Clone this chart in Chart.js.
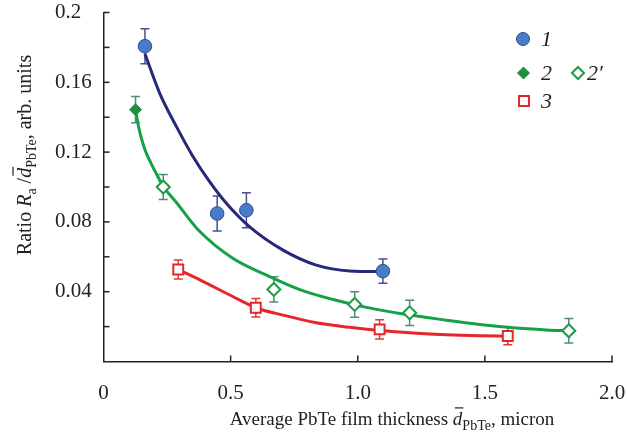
<!DOCTYPE html>
<html>
<head>
<meta charset="utf-8">
<script src="https://cdn.jsdelivr.net/npm/chart.js@4"></script>
<style>
  html, body { margin: 0; padding: 0; background: #ffffff; }
  canvas { display: block; }
</style>
</head>
<body>
<canvas id="chart" width="627" height="439"></canvas>
<script>
// measured points (x = thickness, micron; y = ratio)
const x1 = [0.163, 0.447, 0.562, 1.099];
const y1 = [0.1807, 0.0848, 0.0867, 0.0518];
const err1 = [0.010, 0.010, 0.010, 0.007];

const x2 = [0.126];
const y2 = [0.1443];
const err2 = [0.0075];

const x2p = [0.235, 0.670, 0.988, 1.204, 1.830];
const y2p = [0.1000, 0.0413, 0.0327, 0.0279, 0.0176];
const err2p = [0.0072, 0.0072, 0.0073, 0.0072, 0.0070];

const x3 = [0.294, 0.599, 1.086, 1.590];
const y3 = [0.0527, 0.0308, 0.0184, 0.0146];
const err3 = [0.0054, 0.0053, 0.0055, 0.0050];

// fitted curves
const fit1X = [0.163, 0.222, 0.288, 0.353, 0.418, 0.484, 0.575, 0.706, 0.837, 0.968, 1.073, 1.099];
const fit1Y = [0.1763, 0.1534, 0.1343, 0.1172, 0.1029, 0.0905, 0.0771, 0.0638, 0.0552, 0.0519, 0.0516, 0.0516];

const fit2X = [0.1265, 0.1375, 0.1512, 0.1669, 0.1866, 0.2101, 0.2349, 0.2875, 0.372, 0.510, 0.641, 0.772, 0.903, 1.034, 1.165, 1.348, 1.479, 1.610, 1.741, 1.830];
const fit2Y = [0.1439, 0.1348, 0.1268, 0.1199, 0.1137, 0.1070, 0.1004, 0.0910, 0.0755, 0.0590, 0.0495, 0.0412, 0.0355, 0.0310, 0.0275, 0.0237, 0.0212, 0.0193, 0.0181, 0.0176];

const fit3X = [0.293, 0.379, 0.510, 0.599, 0.706, 0.837, 0.968, 1.086, 1.217, 1.348, 1.479, 1.589];
const fit3Y = [0.0527, 0.0468, 0.0371, 0.0308, 0.0266, 0.0222, 0.0196, 0.0178, 0.0164, 0.0154, 0.0148, 0.0145];

// axis ticks
const xTickLabels = ['0', '0.5', '1.0', '1.5', '2.0'];
const yTickLabels = ['', '0.04', '0.08', '0.12', '0.16', '0.2'];
const xTickMarks = [0.5, 1.0, 1.5, 2.0];
const yTickMarks = [0.02, 0.04, 0.06, 0.08, 0.10, 0.12, 0.14, 0.16, 0.18, 0.20];

const SERIF = '"Liberation Serif", "Times New Roman", serif';

function toPoints(xs, ys) {
    return xs.map((x, i) => ({ x: x, y: ys[i] }));
}

function runFont(r) {
    return (r.italic ? 'italic ' : '') + r.size + 'px ' + SERIF;
}

// draws a line of mixed text (italic, subscripts, overline) centred on cx
function drawRich(ctx, runs, cx, baseline) {
    let total = 0;
    runs.forEach(r => {
        ctx.font = runFont(r);
        r.w = ctx.measureText(r.text).width;
        total += r.w;
    });
    let x = cx - total / 2;
    runs.forEach(r => {
        ctx.font = runFont(r);
        ctx.fillText(r.text, x, baseline + (r.dy || 0));
        if (r.bar) {
            ctx.beginPath();
            ctx.lineWidth = 1.2;
            ctx.moveTo(x + 2, baseline - r.size * 0.9);
            ctx.lineTo(x + r.w + 1, baseline - r.size * 0.9);
            ctx.stroke();
        }
        x += r.w;
    });
}

const yTitle = [
    { text: 'Ratio ', size: 20 },
    { text: 'R', size: 20, italic: true },
    { text: 'a', size: 14, dy: 5 },
    { text: ' /', size: 20 },
    { text: 'd', size: 20, italic: true, bar: true },
    { text: 'PbTe', size: 14, dy: 5 },
    { text: ', arb. units', size: 20 }
];

const xTitle = [
    { text: 'Average PbTe film thickness ', size: 19 },
    { text: 'd', size: 19, italic: true, bar: true },
    { text: 'PbTe', size: 14, dy: 5 },
    { text: ', micron', size: 19 }
];

const errorBars = {
    id: 'errorBars',
    beforeDatasetsDraw(chart) {
        const { ctx, scales: { x, y } } = chart;
        const sets = [
            [x1, y1, err1, '#4b4f8c'],
            [x2, y2, err2, '#4f8a7c'],
            [x2p, y2p, err2p, '#4f8a7c'],
            [x3, y3, err3, '#e0393c']
        ];
        ctx.save();
        ctx.lineWidth = 1.5;
        sets.forEach(([xs, ys, es, color]) => {
            ctx.strokeStyle = color;
            xs.forEach((v, i) => {
                const px = x.getPixelForValue(v);
                const top = y.getPixelForValue(ys[i] + es[i]);
                const bot = y.getPixelForValue(ys[i] - es[i]);
                ctx.beginPath();
                ctx.moveTo(px, top); ctx.lineTo(px, bot);
                ctx.moveTo(px - 4.5, top); ctx.lineTo(px + 4.5, top);
                ctx.moveTo(px - 4.5, bot); ctx.lineTo(px + 4.5, bot);
                ctx.stroke();
            });
        });
        ctx.restore();
    }
};

// short tick marks pointing into the plot
const tickMarks = {
    id: 'tickMarks',
    afterDraw(chart) {
        const ctx = chart.ctx;
        const xs = chart.scales.x;
        const ys = chart.scales.y;
        const left = xs.getPixelForValue(0);
        const bottom = ys.getPixelForValue(0);
        ctx.save();
        ctx.strokeStyle = '#222';
        ctx.lineWidth = 1.5;
        yTickMarks.forEach(v => {
            const py = ys.getPixelForValue(v);
            ctx.beginPath();
            ctx.moveTo(left, py);
            ctx.lineTo(left + 6, py);
            ctx.stroke();
        });
        xTickMarks.forEach(v => {
            const px = xs.getPixelForValue(v);
            ctx.beginPath();
            ctx.moveTo(px, bottom);
            ctx.lineTo(px, bottom - 6);
            ctx.stroke();
        });
        ctx.restore();
    }
};

const decorations = {
    id: 'decorations',
    afterDraw(chart) {
        const ctx = chart.ctx;
        ctx.save();

        // axis titles
        ctx.fillStyle = '#222';
        ctx.strokeStyle = '#222';
        ctx.textAlign = 'left';
        ctx.textBaseline = 'alphabetic';
        drawRich(ctx, xTitle, 392, 425);
        ctx.save();
        ctx.translate(31, 155);
        ctx.rotate(-Math.PI / 2);
        drawRich(ctx, yTitle, 0, 0);
        ctx.restore();

        // legend
        const draw = Chart.helpers.drawPoint;
        ctx.lineWidth = 1;
        ctx.fillStyle = '#4a7bc8'; ctx.strokeStyle = '#2d4d92';
        draw(ctx, { pointStyle: 'circle', radius: 6.5, borderWidth: 1 }, 523, 39);
        ctx.fillStyle = '#1e9141'; ctx.strokeStyle = '#1e9141';
        draw(ctx, { pointStyle: 'rectRot', radius: 6, borderWidth: 1 }, 523.5, 73);
        ctx.lineWidth = 2;
        ctx.fillStyle = '#ffffff'; ctx.strokeStyle = '#1f9a45';
        draw(ctx, { pointStyle: 'rectRot', radius: 6, borderWidth: 2 }, 578, 73);
        ctx.fillStyle = '#ffffff'; ctx.strokeStyle = '#e3262b';
        draw(ctx, { pointStyle: 'rect', radius: 7, borderWidth: 2 }, 524, 101);

        ctx.fillStyle = '#222';
        ctx.font = 'italic 22px ' + SERIF;
        ctx.textBaseline = 'middle';
        ctx.fillText('1', 541, 40);
        ctx.fillText('2', 541, 74);
        ctx.fillText('2\u2032', 587, 74);
        ctx.fillText('3', 541, 102);
        ctx.restore();
    }
};

function curve(xs, ys, color) {
    return {
        data: toPoints(xs, ys),
        showLine: true,
        borderColor: color,
        borderWidth: 3,
        pointRadius: 0,
        fill: false,
        cubicInterpolationMode: 'monotone',
        order: 2
    };
}

function markers(xs, ys, style, radius, bg, border, width) {
    return {
        data: toPoints(xs, ys),
        showLine: false,
        pointStyle: style,
        pointRadius: radius,
        pointBackgroundColor: bg,
        pointBorderColor: border,
        pointBorderWidth: width,
        order: 1
    };
}

const ctx = document.getElementById('chart').getContext('2d');
new Chart(ctx, {
    type: 'scatter',
    data: {
        datasets: [
            curve(fit1X, fit1Y, '#26287a'),
            curve(fit2X, fit2Y, '#16a04a'),
            curve(fit3X, fit3Y, '#e8262a'),
            markers(x1, y1, 'circle', 6.8, '#4a7bc8', '#2d4d92', 1),
            markers(x2, y2, 'rectRot', 6, '#1e9141', '#1e9141', 1),
            markers(x2p, y2p, 'rectRot', 6.5, '#ffffff', '#1f9a45', 2),
            markers(x3, y3, 'rect', 7, '#ffffff', '#e3262b', 2)
        ]
    },
    options: {
        responsive: false,
        animation: false,
        devicePixelRatio: 1,
        layout: { padding: { left: 55, top: 12.5, right: 15, bottom: 0 } },
        plugins: {
            legend: { display: false },
            tooltip: { enabled: false }
        },
        scales: {
            x: {
                type: 'linear',
                min: 0,
                max: 2,
                grid: { display: false },
                border: { display: true, color: '#222', width: 1.5 },
                ticks: {
                    stepSize: 0.5,
                    padding: 11,
                    color: '#222',
                    font: { family: SERIF, size: 21 },
                    callback: (v, i) => xTickLabels[i]
                },
                afterFit: s => {
                    s.height = 77.5;
                    s.paddingLeft = 0;
                    s.paddingRight = 0;
                }
            },
            y: {
                type: 'linear',
                min: 0,
                max: 0.2,
                grid: { display: false },
                border: { display: true, color: '#222', width: 1.5 },
                ticks: {
                    stepSize: 0.04,
                    crossAlign: 'far',
                    color: '#222',
                    font: { family: SERIF, size: 21 },
                    callback: (v, i) => yTickLabels[i]
                },
                afterFit: s => {
                    s.width = 48.5;
                    s.paddingTop = 0;
                    s.paddingBottom = 0;
                }
            }
        }
    },
    plugins: [errorBars, tickMarks, decorations]
});
</script>
</body>
</html>
